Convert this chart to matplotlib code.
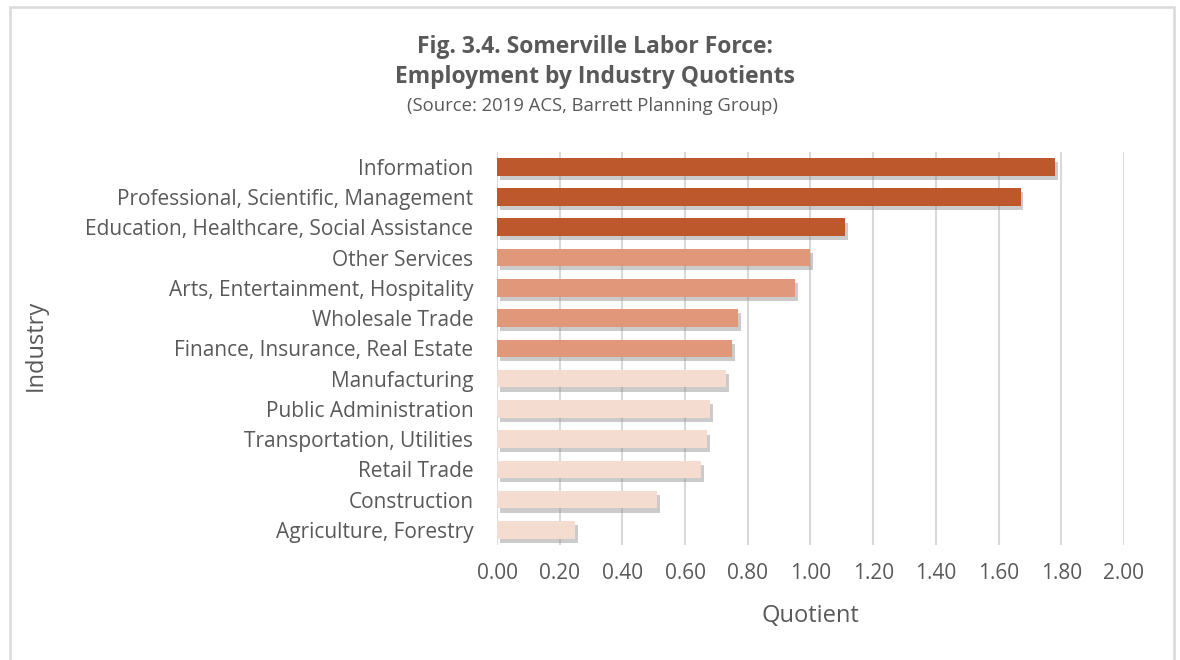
import matplotlib
matplotlib.use("Agg")
import matplotlib.pyplot as plt
import matplotlib.patheffects as pe
from matplotlib.patches import Rectangle

industries = [
    "Information",
    "Professional, Scientific, Management",
    "Education, Healthcare, Social Assistance",
    "Other Services",
    "Arts, Entertainment, Hospitality",
    "Wholesale Trade",
    "Finance, Insurance, Real Estate",
    "Manufacturing",
    "Public Administration",
    "Transportation, Utilities",
    "Retail Trade",
    "Construction",
    "Agriculture, Forestry",
]
quotients = [1.78, 1.67, 1.11, 1.00, 0.95, 0.77, 0.75, 0.73, 0.68, 0.67, 0.65, 0.51, 0.25]
tiers = ["high", "high", "high", "mid", "mid", "mid", "mid",
         "low", "low", "low", "low", "low", "low"]
x_ticks = [0.0, 0.2, 0.4, 0.6, 0.8, 1.0, 1.2, 1.4, 1.6, 1.8, 2.0]

tier_colors = {"high": "#BD582C", "mid": "#E19779", "low": "#F5DCD1"}
text_color = "#595959"
grid_color = "#D9D9D9"

plt.rcParams["font.family"] = ["Open Sans", "DejaVu Sans"]

fig = plt.figure(figsize=(11.8, 6.6), dpi=100)
ax = fig.add_axes([0.4212, 0.1741, 0.5313, 0.5962])

shadow = [pe.SimplePatchShadow(offset=(2, -3), shadow_rgbFace="#7f7f7f", alpha=0.4),
          pe.Normal()]
bars = ax.barh(range(len(industries)), quotients, height=0.58,
               color=[tier_colors[t] for t in tiers], zorder=3)
for b in bars:
    b.set_path_effects(shadow)

ax.set_xlim(0, 2.0)
ax.set_ylim(-0.5, len(industries) - 0.5)
ax.invert_yaxis()
ax.set_xticks(x_ticks)
ax.set_xticklabels([f"{v:.2f}" for v in x_ticks])
ax.set_yticks(range(len(industries)))
ax.set_yticklabels(industries)
ax.tick_params(axis="both", length=0, labelsize=15, labelcolor=text_color)
ax.tick_params(axis="y", pad=17)
ax.tick_params(axis="x", pad=13)
ax.grid(axis="x", color=grid_color, linewidth=1.5, zorder=0)
ax.set_axisbelow(True)
for s in ax.spines.values():
    s.set_visible(False)

ax.set_xlabel("Quotient", fontsize=17, color=text_color, labelpad=14)
fig.text(0.030, 0.477, "Industry", rotation=90, fontsize=17, color=text_color,
         ha="center", va="center")

fig.text(0.504, 0.929, "Fig. 3.4. Somerville Labor Force:", fontsize=16.5,
         fontweight="bold", color=text_color, ha="center", va="center")
fig.text(0.504, 0.883, "Employment by Industry Quotients", fontsize=16.5,
         fontweight="bold", color=text_color, ha="center", va="center")
fig.text(0.502, 0.839, "(Source: 2019 ACS, Barrett Planning Group)", fontsize=13.3,
         color=text_color, ha="center", va="center")

fig.patches.append(Rectangle((0.0085, -0.1), 0.986, 1.089, transform=fig.transFigure,
                             fill=False, edgecolor=grid_color, linewidth=1.8))

fig.savefig("out.png", dpi=100)
